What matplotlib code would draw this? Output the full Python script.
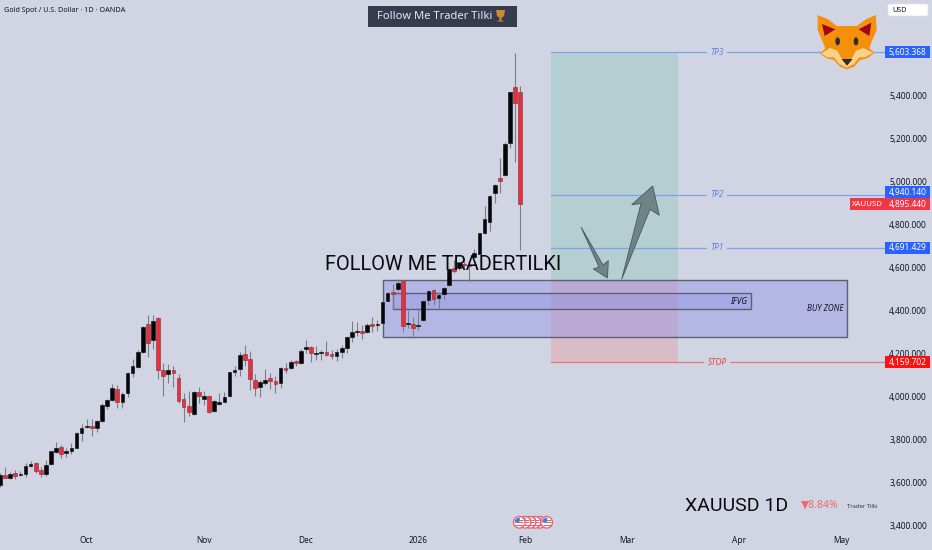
import matplotlib
matplotlib.use("Agg")
import matplotlib.pyplot as plt
from matplotlib.patches import Rectangle, Polygon, Circle, Ellipse, FancyBboxPatch, Wedge
from matplotlib.transforms import blended_transform_factory

# ---- data: daily candles --------------------------------------------------
opens = [3586,3633,3620,3641,3633,3639,3676,3687,3656,3636,3683,3742,3762,3734,3743,3760,3830,3855,3863,3854,
         3886,3956,3983,4034,3973,4014,4110,4136,4208,4335,4264,4363,4122,4105,4124,4084,3986,3953,3917,4018,
         3989,4001,3931,3962,3975,4001,4113,4126,4199,4174,4076,4045,4062,4085,4071,4060,4133,4130,4163,4155,
         4222,4228,4197,4203,4206,4197,4186,4206,4223,4278,4300,4304,4300,4337,4334,4341,4445,4485,4499,4539,
         4337,4337,4327,4355,4449,4494,4460,4476,4518,4597,4597,4617,4612,4648,4665,4759,4813,4948,5017,5032,
         5179,5443,5419]
closes = [3633,3620,3636,3628,3639,3675,3686,3653,3639,3680,3743,3760,3731,3745,3757,3830,3854,3861,3850,3883,
          3958,3981,4040,3972,4012,4108,4139,4206,4324,4250,4352,4121,4094,4122,4110,3978,3948,3925,4021,4000,
          4000,3927,3976,3973,3997,4112,4122,4192,4167,4082,4040,4065,4076,4073,4059,4132,4124,4161,4155,4213,
          4230,4202,4200,4206,4192,4186,4206,4227,4276,4298,4304,4297,4334,4329,4337,4441,4480,4476,4530,4330,
          4341,4320,4330,4445,4491,4452,4473,4507,4594,4584,4620,4611,4608,4667,4760,4828,4936,4985,5004,5178,
          5417,5369,4895.44]
highs = [3641,3669,3648,3656,3653,3687,3698,3695,3669,3703,3746,3785,3773,3757,3781,3835,3869,3892,3892,3889,
         3967,3986,4056,4053,4021,4112,4174,4216,4328,4379,4379,4371,4153,4150,4141,4104,4017,4026,4025,4045,
         4025,4006,3983,4017,4021,4115,4143,4208,4239,4211,4104,4076,4127,4107,4096,4135,4153,4169,4169,4220,
         4262,4236,4236,4216,4258,4216,4219,4239,4281,4349,4345,4332,4340,4371,4356,4443,4488,4524,4546,4543,
         4403,4368,4403,4449,4496,4499,4480,4511,4597,4636,4628,4644,4636,4686,4763,4888,4939,4989,5109,5187,
         5420,5599,5448]
lows = [3579,3617,3614,3613,3628,3625,3672,3641,3625,3630,3678,3737,3714,3718,3731,3757,3791,3850,3816,3835,
        3882,3939,3979,3944,3944,3995,4088,4133,4200,4185,4219,4079,4003,4060,4042,3970,3882,3908,3913,3970,
        3959,3924,3928,3959,3972,3998,4094,4094,4141,4029,4001,3995,4053,4032,4017,4040,4107,4127,4141,4152,
        4203,4161,4169,4169,4188,4172,4164,4177,4200,4253,4281,4269,4297,4301,4306,4337,4442,4406,4493,4302,
        4317,4271,4309,4351,4426,4426,4406,4452,4515,4574,4589,4597,4535,4644,4662,4755,4771,4900,4947,5028,
        5156,5094,4682]

price_ticks = [3400,3600,3800,4000,4200,4400,4600,4800,5000,5200,5400]
month_pos = [17,40,60,82,103,123,145,165]
month_labels = ["Oct","Nov","Dec","2026","Feb","Mar","Apr","May"]

tp_levels = [4691.429,4940.140,5603.368]
tp_names = ["TP1","TP2","TP3"]
stop_level = 4159.702
last_price = 4895.440
entry_level = 4542
buy_zone = (75.1,166.0,4276,4542)
ifvg_zone = (77.0,147.2,4407,4482)
trade_span = (108,133)

# ---- style ----------------------------------------------------------------
BG = "#d1d4e3"
FONT = "Noto Sans"
plt.rcParams["font.family"] = [FONT,"DejaVu Sans"]
DARK = "#131722"
UP = "#060608"
DOWN = "#e2323f"
WICK = "#7d7d85"
BLUE = "#2962ff"
LINE_BLUE = "#7ea3ea"

W,H = 932,550
fig = plt.figure(figsize=(W/100,H/100),dpi=100,facecolor=BG)
ax = fig.add_axes([0,(H-530)/H,885/W,530/H],facecolor=BG)
PXP = 200/42.9
ax.set_xlim(0,885/5.1)
ax.set_ylim(3400-5*PXP,3400+525*PXP)
for s in ax.spines.values():
    s.set_visible(False)
ax.yaxis.tick_right()
ax.set_yticks(price_ticks)
ax.set_yticklabels([f"{p:,.3f}" for p in price_ticks],fontsize=6,color=DARK)
ax.set_xticks(month_pos)
ax.set_xticklabels(month_labels,fontsize=6,color=DARK)
ax.get_xticklabels()[3].set_fontweight("bold")
ax.tick_params(axis="both",length=0)
ax.tick_params(axis="y",pad=3)
ax.tick_params(axis="x",pad=4)

# zones
x0,x1 = trade_span
ax.add_patch(Rectangle((x0,entry_level),x1-x0,tp_levels[2]-entry_level,fc="#8cc8bc",alpha=0.42,ec="none",zorder=1))
ax.add_patch(Rectangle((x0,stop_level),x1-x0,entry_level-stop_level,fc="#ee8c8c",alpha=0.32,ec="none",zorder=1))
for (l,r,b,t),al in ((buy_zone,0.42),(ifvg_zone,0.35)):
    ax.add_patch(Rectangle((l,b),r-l,t-b,fc="#8c8fe6",alpha=al,ec="none",zorder=2))
    ax.add_patch(Rectangle((l,b),r-l,t-b,fc="none",ec="#5a6078",lw=1.0,zorder=2.1))

# level lines
for lv,name in zip(tp_levels,tp_names):
    ax.plot([x0,885/5.1],[lv,lv],color=LINE_BLUE,lw=0.9,zorder=2.5)
    ax.text(717/5.1,lv,name,style="italic",fontsize=6,color="#5c84e4",ha="center",va="center",zorder=3,
            bbox=dict(fc=BG,ec="none",pad=2.2))
ax.plot([x0,885/5.1],[stop_level,stop_level],color="#e67676",lw=0.9,zorder=2.5)
ax.text(717/5.1,stop_level,"STOP",style="italic",fontsize=6,color="#e8453c",ha="center",va="center",zorder=3,
        bbox=dict(fc=BG,ec="none",pad=2.2))
ax.text(146.6,4444,"IFVG",style="italic",fontweight="bold",fontsize=6,color=DARK,ha="right",va="center",zorder=3)
ax.text(165.4,4410,"BUY ZONE",style="italic",fontweight="bold",fontsize=5.8,color=DARK,ha="right",va="center",zorder=3)

# candles
xs = list(range(len(opens)))
ax.vlines(xs,lows,highs,color=WICK,lw=0.8,zorder=4)
for x,o,c in zip(xs,opens,closes):
    up = c>=o
    ax.bar(x,max(abs(c-o),4),bottom=min(o,c),width=0.72,color=UP if up else DOWN,
           ec=UP if up else "#8e2a36",lw=0.4,zorder=5)

# ---- overlay in pixel coordinates: annotations, badges, icons ------------
ov = fig.add_axes([0,0,1,1],facecolor="none",zorder=10)
ov.set_xlim(0,W); ov.set_ylim(H,0); ov.axis("off")
ytr = blended_transform_factory(ov.transData,ax.transData)

ov.text(4,10,"Gold Spot / U.S. Dollar · 1D · OANDA",fontsize=5.2,fontweight="bold",color=DARK,ha="left",va="center")
ov.add_patch(Rectangle((368,6),149,21,fc="#373b4f",ec="none"))
ov.text(377,16.5,"Follow Me Trader Tilki",fontsize=8.0,color="#e6e8ee",ha="left",va="center")
# trophy
ov.add_patch(Polygon([(496,10),(505,10),(504,16),(501.5,18),(501.5,20),(504,21.5),(497,21.5),(499.5,20),(499.5,18),(497,16)],fc="#c98a2e",ec="none"))
ov.add_patch(Rectangle((497,20.5),7,1.6,fc="#8a5a3a",ec="none"))

ov.text(325,264.5,"FOLLOW ME TRADERTILKI",fontsize=14.4,family="Roboto",color="#0b0b0f",ha="left",va="center")
ov.text(685,506,"XAUUSD 1D",fontsize=14.0,family="Roboto",color="#0b0b0f",ha="left",va="center")
ov.text(801,505.5,"▼8.84%",fontsize=7.6,color="#ef6a6a",ha="left",va="center")
ov.text(847,506,"Trader Tilki",fontsize=4.2,color="#33384a",ha="left",va="center")

ov.add_patch(FancyBboxPatch((888,4),40,12,boxstyle="round,pad=0,rounding_size=2",fc="white",ec="#e3e5ee",lw=0.5))
ov.text(892,10.2,"USD",fontsize=5.2,color=DARK,ha="left",va="center")

def tag(level,col,shift=0.0,name=None):
    yc = level+shift
    ov.add_patch(Rectangle((885,yc-6*PXP),44.5,12*PXP,transform=ytr,fc=col,ec="none"))
    ov.text(907.5,yc,f"{level:,.3f}",transform=ytr,fontsize=6,color="white",ha="center",va="center")
    if name:
        ov.add_patch(Rectangle((850,yc-6*PXP),34.5,12*PXP,transform=ytr,fc=col,ec="none"))
        ov.text(867.3,yc,name,transform=ytr,fontsize=5.6,color="white",ha="center",va="center")

for lv,sh in zip(tp_levels,(0,10,0)):
    tag(lv,BLUE,sh)
tag(last_price,"#f23645",name="XAUUSD")
tag(stop_level,"#ff1010")

# arrows
ACOL="#6f8487"
ov.add_patch(Polygon([(581,227),(603,265),(608.3,260.7),(607.5,278),(593.3,269),(599,267)],fc=ACOL,ec="#4a5560",lw=0.6))
ov.add_patch(Polygon([(621.7,279.3),(641,203.5),(631.7,204.7),(652.7,186),(659.3,215.3),(650,209.3)],fc=ACOL,ec="#4a5560",lw=0.6))

# fox (coordinates from the 3x crop)
def fx(pts):
    return [(780+x/3,y/3) for x,y in pts]
head=[(113,45),(145,58),(170,78),(230,78),(258,58),(287,45),(290,90),(275,125),(268,145),(284,158),(262,175),(240,180),(222,200),(200,208),(180,200),(162,180),(140,175),(120,160),(136,145),(128,125),(113,90)]
ov.add_patch(Polygon(fx(head),fc="#f4900c",ec="none"))
ov.add_patch(Polygon(fx([(126,72),(166,88),(134,108)]),fc="#a0041e",ec="none"))
ov.add_patch(Polygon(fx([(274,68),(236,88),(268,108)]),fc="#a0041e",ec="none"))
ov.add_patch(Polygon(fx([(124,160),(150,144),(172,152),(186,178),(200,197),(214,178),(228,152),(250,144),(280,158),(255,172),(238,172),(222,192),(200,203),(178,192),(162,172),(142,172)]),fc="#fbd08a",ec="none"))
ov.add_patch(Polygon(fx([(185,177),(218,177),(201,197)]),fc="#292f33",ec="none"))
for ex in (173,228):
    cx,cy=fx([(ex,124)])[0]
    ov.add_patch(Ellipse((cx,cy),4.6,8,fc="#292f33",ec="none"))

# calendar flags
flag_x=[540,535,530,525,519.3,546.7]
for n,fxp in enumerate(flag_x):
    z=3+n
    ov.add_patch(Circle((fxp,522.3),5.8,fc="white",ec="#ee5a66",lw=0.9,zorder=z))
    for dy in (-2.4,0,2.4):
        ov.plot([fxp-3.9,fxp+3.9],[522.3+dy,522.3+dy],color="#ee5a66",lw=0.7,solid_capstyle="butt",zorder=z)
    ov.add_patch(Wedge((fxp,522.3),4.6,180,280,fc="#3f7fe0",ec="none",zorder=z))

fig.savefig("out.png",dpi=100,facecolor=BG)
